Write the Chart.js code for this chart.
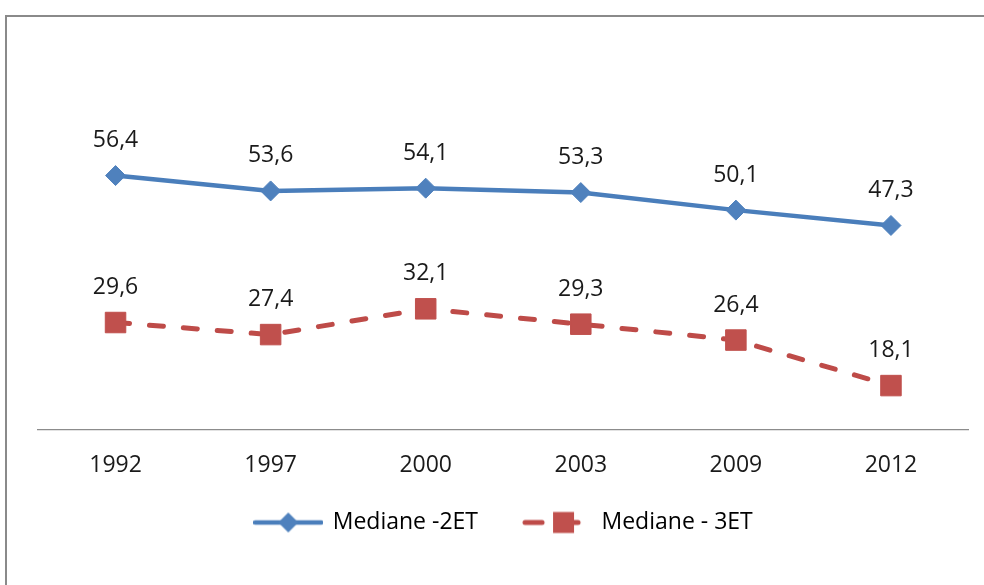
<!DOCTYPE html>
<html>
<head>
<meta charset="utf-8">
<script src="https://cdn.jsdelivr.net/npm/chart.js@4/dist/chart.umd.min.js"></script>
<style>
  html, body { margin: 0; padding: 0; background: #fff; width: 984px; height: 585px; overflow: hidden; }
  #frame { position: absolute; left: 5px; top: 15px; width: 1000px; height: 600px; border: 2px solid #8a8a8a; box-shadow: 1px 1px 1px #c8c8c8; }
  #wrap { position: absolute; left: 0; top: 0; width: 984px; height: 585px; }
</style>
</head>
<body>
<div id="frame"></div>
<div id="wrap"><canvas id="c" width="984" height="585"></canvas></div>
<script>
const categories = ["1992", "1997", "2000", "2003", "2009", "2012"];
const seriesNames = ["Mediane -2ET", "Mediane - 3ET"];
const median2ET = [56.4, 53.6, 54.1, 53.3, 50.1, 47.3];
const median3ET = [29.6, 27.4, 32.1, 29.3, 26.4, 18.1];

const BLUE = "#4A7EBB";
const BLUE_M = "#4F81BD";
const RED = "#BE4B48";
const RED_M = "#C0504D";
const FONT = "'Open Sans', 'Liberation Sans', sans-serif";

function legendImg(kind) {
  const c = document.createElement("canvas");
  c.width = 70; c.height = 24;
  const g = c.getContext("2d");
  const y = 12;
  if (kind === "blue") {
    g.strokeStyle = BLUE; g.lineWidth = 4.5; g.lineCap = "round";
    g.beginPath(); g.moveTo(2, y); g.lineTo(68, y); g.stroke();
    g.fillStyle = BLUE_M;
    g.beginPath(); g.moveTo(25, y); g.lineTo(35, y - 10); g.lineTo(45, y); g.lineTo(35, y + 10); g.closePath(); g.fill();
  } else {
    g.strokeStyle = RED; g.lineWidth = 5; g.lineCap = "round";
    g.beginPath(); g.moveTo(3, y); g.lineTo(20, y); g.stroke();
    g.beginPath(); g.moveTo(44, y); g.lineTo(56, y); g.stroke();
    g.fillStyle = RED_M;
    g.fillRect(31, y - 10.5, 21, 21);
  }
  return c;
}
const legendImages = [legendImg("blue"), legendImg("red")];

const valueLabels = {
  id: "valueLabels",
  afterLayout(chart) {
    if (chart.legend) { chart.legend.top -= 15; chart.legend.bottom -= 15; }
  },
  afterDatasetsDraw(chart) {
    const ctx = chart.ctx;
    ctx.save();
    ctx.font = "23px " + FONT;
    ctx.fillStyle = "#1a1a1a";
    ctx.textAlign = "center";
    ctx.textBaseline = "middle";
    chart.data.datasets.forEach((ds, i) => {
      const meta = chart.getDatasetMeta(i);
      meta.data.forEach((pt, j) => {
        ctx.fillText(ds.data[j].toFixed(1).replace(".", ","), pt.x, pt.y - 35);
      });
    });
    ctx.restore();
  }
};

new Chart(document.getElementById("c"), {
  type: "line",
  data: {
    labels: categories,
    datasets: [
      {
        label: seriesNames[0],
        data: median2ET,
        borderColor: BLUE,
        borderWidth: 4.5,
        backgroundColor: BLUE_M,
        pointStyle: "rectRot",
        pointRadius: 10,
        pointBorderWidth: 1,
        pointBorderColor: BLUE_M,
        pointBackgroundColor: BLUE_M,
        tension: 0,
        fill: false
      },
      {
        label: seriesNames[1],
        data: median3ET,
        borderColor: RED,
        borderWidth: 5,
        borderDash: [14, 20],
        borderCapStyle: "round",
        backgroundColor: RED_M,
        pointStyle: "rect",
        pointRadius: 14.5,
        pointBorderWidth: 1,
        pointBorderColor: RED_M,
        pointBackgroundColor: RED_M,
        tension: 0,
        fill: false
      }
    ]
  },
  options: {
    responsive: false,
    animation: false,
    events: [],
    layout: { padding: { left: 38, right: 14, top: 101, bottom: 26 } },
    scales: {
      x: {
        offset: true,
        grid: { display: false, drawTicks: false },
        border: { display: true, color: "#8c8c8c", width: 1.2 },
        ticks: { color: "#1a1a1a", font: { family: FONT, size: 23 }, padding: 22 },
        afterFit(s) { s.height = 50; }
      },
      y: {
        display: false,
        min: 10,
        max: 70
      }
    },
    plugins: {
      tooltip: { enabled: false },
      legend: {
        position: "bottom",
        labels: {
          color: "#1a1a1a",
          font: { family: FONT, size: 23 },
          usePointStyle: true,
          pointStyleWidth: 66,
          padding: 46,
          generateLabels(chart) {
            return chart.data.datasets.map((ds, i) => ({
              text: ds.label,
              pointStyle: legendImages[i],
              datasetIndex: i,
              fillStyle: ds.backgroundColor,
              strokeStyle: ds.borderColor,
              lineWidth: 0,
              hidden: false
            }));
          }
        }
      }
    }
  },
  plugins: [valueLabels]
});
</script>
</body>
</html>
